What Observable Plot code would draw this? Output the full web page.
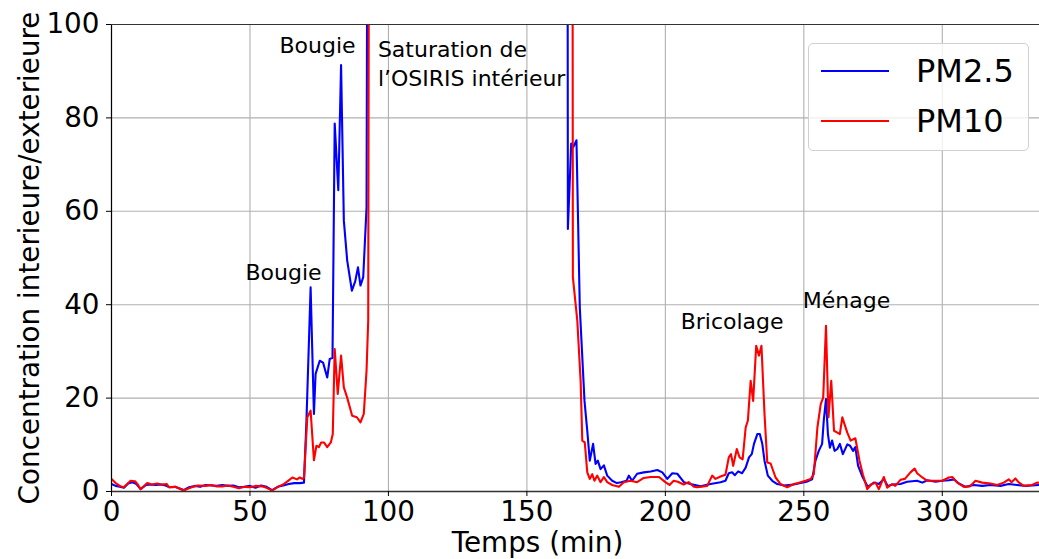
<!DOCTYPE html>
<html>
<head>
<meta charset="utf-8">
<script src="https://cdn.jsdelivr.net/npm/d3@7"></script>
<script src="https://cdn.jsdelivr.net/npm/@observablehq/plot@0.6"></script>
<style>
  html, body { margin: 0; padding: 0; background: #fff; }
  #wrap { position: relative; width: 1039px; height: 559px; overflow: hidden; font-family: "DejaVu Sans", sans-serif; }
  #legend { position: absolute; left: 808px; top: 43px; width: 221px; height: 108px; border: 1px solid #d0d0d0; border-radius: 5px; background: rgba(255,255,255,0.8); box-sizing: border-box; }
  .lg-row { position: absolute; left: 0; height: 40px; width: 100%; }
  .lg-line { position: absolute; left: 12px; width: 68px; top: 19px; height: 2px; }
  .lg-text { position: absolute; left: 107px; top: 0; line-height: 40px; font-size: 32px; color: #000; }
</style>
</head>
<body>
<div id="wrap"></div>
<script>
// ---- Data ----
const seriesNames = ["PM2.5", "PM10"];
const seriesColors = ["#0000ff", "#ff0000"];

const timePM25 = [0,1.5,3,4.5,6,7.5,9,10.5,12.5,14,16,18,19.5,21,23,26,28,30,32,34,36,38,40,42,44,46,48,50,52,54,56,58,60,62,64,66,68,69.5,
  70.4,71.9,73.1,73.7,75.2,76.4,77.9,78.8,79.8,80.6,81.9,82.9,83.9,85.1,86.8,88,89,89.9,90.9,92.1,92.9,
  164.5,164.8,166,166.8,167.9,169.1,170.8,171.8,172.7,173.9,174.8,175.6,176.6,177.8,179,180.8,182.5,184,186,186.8,188,189.8,192.2,194.7,197.1,198.9,200.7,202.5,204.3,206.7,209.1,212.7,216.3,219.9,221.7,
  222.9,224.1,225.1,226.3,227.7,229,230.2,231.2,232,233.2,234.1,235,235.8,237,238.6,240.4,242.8,246.4,248.8,251,253,
  254.2,255.4,256.6,257.2,258,258.7,259.4,260.2,261.1,262.1,263,264.1,265.7,266.7,267.8,268.6,269.6,271.3,273.1,275.3,277.1,278.9,280.3,282,284.9,287.3,290.9,292.8,294.6,297.6,300,302.4,304.2,306,308.4,311.4,314.4,317.4,321,324,327,330,332.4,334.8,336];
const valuesPM25 = [1.6,1.2,1.0,0.8,1.7,2.0,1.6,0.5,1.4,1.5,1.4,1.5,1.3,0.9,1.0,0.3,0.9,1.2,1.0,1.4,1.3,1.2,1.4,1.2,1.3,0.9,1.0,1.2,0.8,1.3,1.0,0.3,1.0,1.3,1.6,1.8,1.8,1.9,
  15.2,43.7,16.6,25.2,28.0,27.6,24.4,28.4,28.6,78.8,64.5,91.3,58.0,49.5,43.0,45.0,48.0,44.1,45.9,60.9,250,
  250,56.2,74.5,73.8,75.2,39.4,19.4,13.0,6.6,10.2,5.9,6.6,4.8,5.6,3.4,2.3,1.8,2.0,2.3,3.4,2.3,3.8,4.1,4.3,4.6,4.1,2.7,3.9,3.8,2.0,1.6,1.1,1.6,2.0,2.3,
  3.9,4.1,3.5,4.3,3.9,5.1,7.3,8.0,10.2,12.3,12.3,10.2,6.6,3.4,2.3,1.6,1.3,1.5,1.8,2.1,2.6,
  6.6,8.7,10.2,15.2,19.8,12.3,9.4,10.9,8.7,9.1,10.2,8.0,10.1,9.8,8.7,9.5,5.5,3.0,1.0,1.9,1.6,2.7,1.2,1.5,1.6,2.1,2.3,1.9,2.4,2.1,2.3,2.4,2.6,1.7,1.0,1.4,1.2,1.4,1.2,1.6,1.4,1.2,1.3,1.4,1.4];

const timePM10 = [0,1.5,3,4.4,5.5,6.9,8.5,9.5,10.5,12.9,14.5,16.5,18,20,20.7,23,26.1,27.5,29,31,34,36,38,40,42,44,46,48,50.2,52,54.3,56,58,60.4,62,64,65.3,67,68,68.9,69.5,
  70.7,71.9,73.1,74,74.9,75.7,76.7,77.9,79.2,79.9,80.6,81.7,82.9,83.9,85.1,86.9,88.6,89.9,91.1,92.1,92.7,93.3,
  166.3,166.6,168.2,169.4,170,170.9,171.8,172.7,173.6,174.4,175.4,176.6,177.8,179,180.8,183.2,185,187.4,189.8,192.2,194.7,197.7,200,201.5,203,204.5,206.6,208.4,210.3,211.5,215.1,
  216.9,218.1,219.9,221.7,222.9,223.7,224.5,225.8,226.8,227.9,229,229.8,230.8,231.7,232.8,233.8,234.7,235.8,236.8,238,239.8,241.6,244,246.4,248,250.6,252.5,
  253.6,254.9,256.1,257,258,258.9,259.9,260.9,262.1,263,263.9,264.8,265.7,266.9,268.6,270.1,271.3,272.9,274.3,275.9,277.1,278.9,280.1,281.9,283,284.9,286.5,288.5,290,290.9,292.8,294.6,297.6,300,302.4,303.6,305.4,307.8,310,312,314.4,317.4,319.8,322.2,324,325,326.4,327.5,329.4,332.4,334.2,336];
const valuesPM10 = [2.7,1.8,1.2,0.9,1.5,2.3,2.2,1.5,0.5,1.8,1.5,1.7,1.5,1.6,0.9,1.0,0.2,0.6,0.9,1.3,1.2,1.4,1.1,1.1,1.3,1.0,0.7,1.0,0.9,1.2,1.1,0.8,0.2,1.1,1.5,2.4,3.0,2.6,3.0,2.7,2.9,
  15.9,17.3,6.7,9.8,9.5,10.5,10.5,9.5,10.5,12.3,30.5,20.9,29.1,22.3,20.1,16.2,15.9,14.8,16.6,25.9,36.6,250,
  250,45.9,36.6,23.7,10.9,10.5,4.1,2.7,3.7,2.3,3.4,2.0,3.1,2.0,1.4,1.0,2.0,2.3,2.0,2.9,3.1,3.1,2.0,1.4,2.3,2.1,1.5,2.0,1.0,0.9,1.2,
  3.4,2.7,3.2,3.6,7.3,8.0,5.5,9.1,7.3,6.9,13.7,15.2,23.7,19.4,31.2,29.1,31.2,16.6,6.2,6.0,3.0,1.6,0.9,1.6,1.8,2.3,2.7,
  3.7,13.7,18.7,20.1,35.5,15.9,23.7,13.0,12.6,12.3,15.9,14.2,12.6,10.9,11.4,6.6,3.7,0.5,1.5,1.9,0.5,3.1,0.8,1.6,1.2,2.5,2.7,4.1,4.9,3.9,3.0,2.3,2.3,2.3,3.0,3.1,1.9,1.0,1.1,2.3,1.9,1.7,1.4,1.9,2.6,2.0,2.8,2.0,1.2,1.4,1.9,1.8];

const xTicks = [0, 50, 100, 150, 200, 250, 300];
const yTicks = [0, 20, 40, 60, 80, 100];

const annLabels = ["Bougie", "Bougie", "Bricolage", "Ménage"];
const annTime = [62.1, 74.4, 224.1, 265.4];
const annValue = [46.9, 95.3, 36.4, 40.7];
const satLabel = "Saturation de\nl’OSIRIS intérieur";
const satTime = 96.2;
const satValue = 91.9;

const xLabel = "Temps (min)";
const yLabel = "Concentration interieure/exterieure";

// ---- Build tables ----
const rows = [];
timePM25.forEach((t, i) => rows.push({t, v: valuesPM25[i], s: seriesNames[0]}));
timePM10.forEach((t, i) => rows.push({t, v: valuesPM10[i], s: seriesNames[1]}));
const ann = annLabels.map((label, i) => ({label, t: annTime[i], v: annValue[i]}));

const chart = Plot.plot({
  width: 1039,
  height: 559,
  marginLeft: 111,
  marginRight: 0,
  marginTop: 24,
  marginBottom: 68,
  style: {fontFamily: "DejaVu Sans", fontSize: "27.8px", color: "#000", background: "transparent", overflow: "visible"},
  x: {domain: [0, 335.1]},
  y: {domain: [0, 100]},
  color: {domain: seriesNames, range: seriesColors},
  marks: [
    Plot.gridX(xTicks, {stroke: "#b0b0b0", strokeOpacity: 1, strokeWidth: 1.1}),
    Plot.gridY(yTicks, {stroke: "#b0b0b0", strokeOpacity: 1, strokeWidth: 1.1}),
    Plot.line(rows, {x: "t", y: "v", z: "s", stroke: "s", strokeWidth: 2.1, clip: true, strokeLinejoin: "round"}),
    Plot.ruleX([0], {stroke: "#000", strokeWidth: 1.2}),
    Plot.ruleY([0], {stroke: "#333", strokeWidth: 1.6}),
    Plot.ruleY([100], {stroke: "#333", strokeWidth: 1.2}),
    Plot.axisX({ticks: xTicks, tickSize: 5, tickPadding: 5, tickFormat: d => String(d), label: null, fontSize: 27.8}),
    Plot.axisY({ticks: yTicks, tickSize: 5, tickPadding: 7, tickFormat: d => String(d), label: null, fontSize: 27.8}),
    Plot.text(ann, {x: "t", y: "v", text: "label", fontSize: 22, textAnchor: "middle", lineAnchor: "middle", fill: "#000"}),
    Plot.text([satLabel], {x: () => satTime, y: () => satValue, text: d => d, fontSize: 22, textAnchor: "start", lineAnchor: "middle", lineHeight: 1.3, fill: "#000"}),
    Plot.text([yLabel], {frameAnchor: "left", dx: -81, rotate: -90, text: d => d, fontSize: 27.8, textAnchor: "middle", lineAnchor: "middle", fill: "#000"}),
    Plot.text([xLabel], {frameAnchor: "bottom", dx: -38, dy: 52, text: d => d, fontSize: 27.8, textAnchor: "middle", lineAnchor: "middle", fill: "#000"})
  ]
});

const wrap = document.getElementById("wrap");
wrap.appendChild(chart);

// Legend
const legend = document.createElement("div");
legend.id = "legend";
seriesNames.forEach((name, i) => {
  const row = document.createElement("div");
  row.className = "lg-row";
  row.style.top = (7 + i * 50) + "px";
  const line = document.createElement("div");
  line.className = "lg-line";
  line.style.background = seriesColors[i];
  const txt = document.createElement("div");
  txt.className = "lg-text";
  txt.textContent = name;
  row.appendChild(line);
  row.appendChild(txt);
  legend.appendChild(row);
});
wrap.appendChild(legend);
</script>
</body>
</html>
